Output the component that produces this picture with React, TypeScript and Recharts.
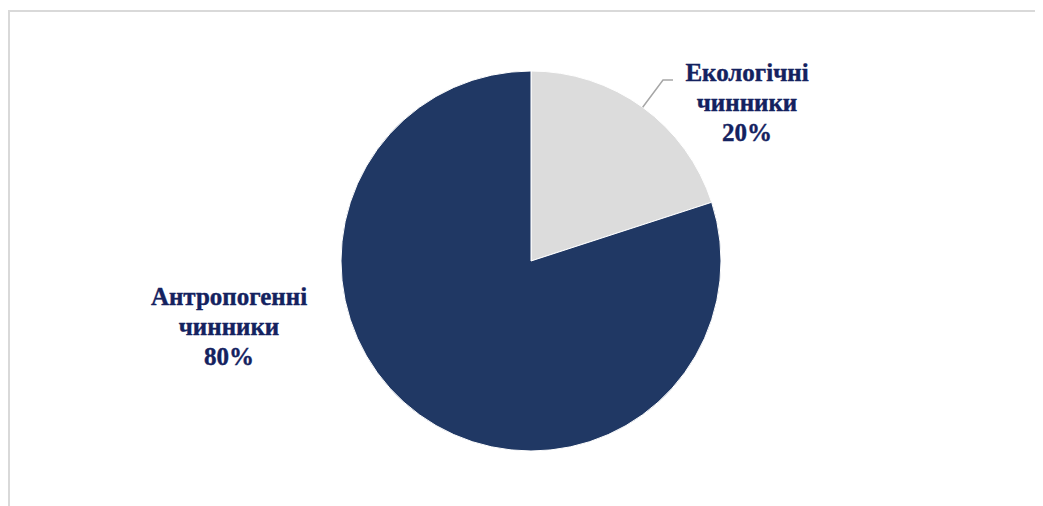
import { PieChart, Pie, Cell } from "recharts";

// Частки чинників (%)
const categories = ["Екологічні чинники", "Антропогенні чинники"];
const shares = [20, 80];
const labelLines = [
  ["Екологічні", "чинники", "20%"],
  ["Антропогенні", "чинники", "80%"],
];

const COLORS = ["#dcdcdc", "#203864"];
const TEXT = "#14225f";

// Label placement, relative to the pie centre (moved by hand, like in Excel)
const LABEL_POS = [
  { dx: 216, dy: -159, leader: true },
  { dx: -302, dy: 65, leader: false },
];

const data = categories.map((name, i) => ({ name, value: shares[i] }));

const RAD = Math.PI / 180;

function renderLabel(props: any) {
  const { cx, cy, midAngle, outerRadius, index } = props;
  const pos = LABEL_POS[index];
  const x = cx + pos.dx;
  const y = cy + pos.dy;
  const lines = labelLines[index];
  let leader = null;
  if (pos.leader) {
    const sx = cx + outerRadius * Math.cos(-midAngle * RAD);
    const sy = cy + outerRadius * Math.sin(-midAngle * RAD);
    const ex = x - 74;
    const ey = y - 22;
    leader = (
      <polyline
        points={`${sx},${sy} ${ex - 10},${ey} ${ex},${ey}`}
        fill="none"
        stroke="#a6a6a6"
        strokeWidth={1.5}
      />
    );
  }
  return (
    <g>
      {leader}
      <text
        x={x}
        y={y}
        textAnchor="middle"
        fill={TEXT}
        stroke={TEXT}
        strokeWidth={0.4}
        fontFamily='"Liberation Serif", "Times New Roman", serif'
        fontWeight="bold"
        fontSize={25}
      >
        {lines.map((t, i) => (
          <tspan key={i} x={x} y={y + (i - 1) * 30} dominantBaseline="central">
            {t}
          </tspan>
        ))}
      </text>
    </g>
  );
}

export default function App() {
  return (
    <div
      style={{
        paddingTop: 0,
        width: 1035,
        height: 496,
        marginTop: 2,
        boxSizing: "border-box",
        borderTop: "2px solid #d9d9d9",
        borderLeft: "2px solid #d9d9d9",
        overflow: "hidden",
      }}
    >
      <PieChart width={1033} height={494}>
        <Pie
          data={data}
          dataKey="value"
          nameKey="name"
          cx={516}
          cy={244}
          outerRadius={190}
          startAngle={90}
          endAngle={-270}
          stroke="#ffffff"
          strokeWidth={1}
          label={renderLabel}
          labelLine={false}
          isAnimationActive={false}
        >
          {data.map((d, i) => (
            <Cell key={d.name} fill={COLORS[i]} />
          ))}
        </Pie>
      </PieChart>
    </div>
  );
}
